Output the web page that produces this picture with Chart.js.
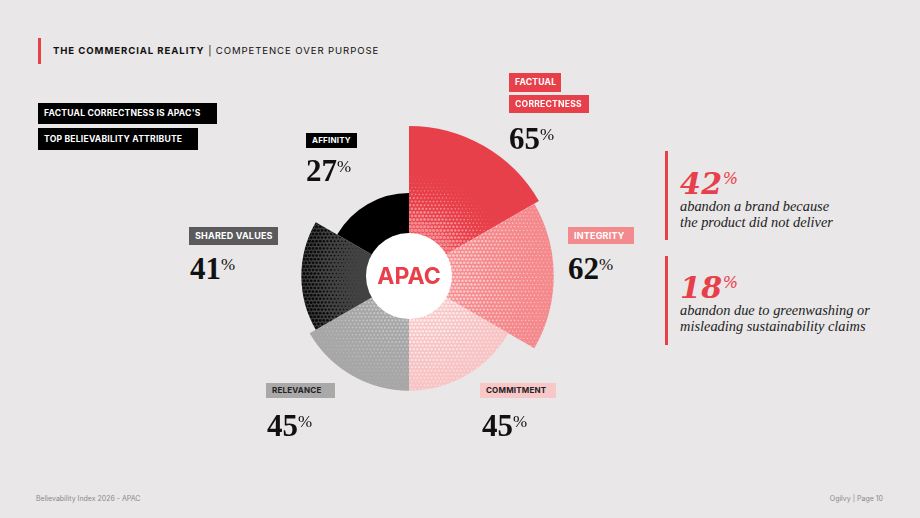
<!DOCTYPE html>
<html>
<head>
<meta charset="utf-8">
<script src="https://cdn.jsdelivr.net/npm/chart.js@4/dist/chart.umd.min.js"></script>
<style>
  html, body { margin: 0; padding: 0; }
  body { width: 920px; height: 518px; background: #e9e7e8; position: relative; overflow: hidden; font-family: Inter, "Noto Sans", sans-serif; }
  .abs { position: absolute; white-space: nowrap; }
  #chartBox { position: absolute; left: 259px; top: 126px; width: 300px; height: 300px; }
  .tag { position: absolute; font-weight: 700; font-size: 8.6px; letter-spacing: 0.2px; padding-left: 6px; box-sizing: border-box; white-space: nowrap; }
  .num { position: absolute; font-family: "Liberation Serif", "DejaVu Serif", serif; font-weight: 700; font-size: 31px; line-height: 31px; color: #111; white-space: nowrap; }
  .num span { font-size: 17px; font-weight: 400; vertical-align: 9px; }
  .big { position: absolute; font-family: "DejaVu Serif", serif; font-style: italic; font-weight: 700; font-size: 30px; line-height: 22px; color: #e8404a; white-space: nowrap; letter-spacing: 0.5px; }
  .big span { font-size: 16px; font-weight: 400; vertical-align: 10px; }
  .note { position: absolute; font-family: "Liberation Serif", serif; font-style: italic; font-size: 14.4px; line-height: 15.5px; color: #222; white-space: nowrap; }
  .bar { position: absolute; width: 3px; background: #e8404a; }
</style>
</head>
<body>

<div class="bar" style="left:38px;top:38px;height:26px;"></div>
<div class="abs" style="left:53px;top:45px;font-size:9.6px;line-height:11px;letter-spacing:0.9px;color:#111;">
  <b>THE COMMERCIAL REALITY</b> | COMPETENCE OVER PURPOSE
</div>

<div class="tag" style="left:38px;top:103px;width:179px;height:21px;line-height:21px;background:#000;color:#fff;">FACTUAL CORRECTNESS IS APAC'S</div>
<div class="tag" style="left:38px;top:128px;width:160px;height:22px;line-height:22px;background:#000;color:#fff;">TOP BELIEVABILITY ATTRIBUTE</div>

<div id="chartBox"><canvas id="polar" width="300" height="300"></canvas></div>

<div class="tag" style="left:509px;top:73px;width:52px;height:19px;line-height:19px;background:#e8404a;color:#fff;">FACTUAL</div>
<div class="tag" style="left:509px;top:95px;width:80px;height:18px;line-height:18px;background:#e8404a;color:#fff;">CORRECTNESS</div>
<div class="num" id="v0" style="left:509px;top:119px;"></div>

<div class="tag" style="left:568px;top:227px;width:66px;height:17px;line-height:17px;background:#f38b8e;color:#fff;font-size:9px;">INTEGRITY</div>
<div class="num" id="v1" style="left:568px;top:249px;"></div>

<div class="tag" style="left:480px;top:383px;width:76px;height:15px;line-height:15px;background:#f8c7c8;color:#222;font-size:8px;">COMMITMENT</div>
<div class="num" id="v2" style="left:482px;top:406px;"></div>

<div class="tag" style="left:266px;top:383px;width:69px;height:15px;line-height:15px;background:#a9a9a9;color:#222;font-size:8px;">RELEVANCE</div>
<div class="num" id="v3" style="left:267px;top:406px;"></div>

<div class="tag" style="left:189px;top:227px;width:89px;height:18px;line-height:18px;background:#5b5a5c;color:#fff;font-size:9px;">SHARED VALUES</div>
<div class="num" id="v4" style="left:190px;top:249px;"></div>

<div class="tag" style="left:306px;top:133px;width:51px;height:15px;line-height:15px;background:#000;color:#fff;font-size:8px;">AFFINITY</div>
<div class="num" id="v5" style="left:306px;top:151px;"></div>

<div class="bar" style="left:665px;top:151px;height:89px;"></div>
<div class="big" style="left:680px;top:168px;">42<span>%</span></div>
<div class="note" style="left:680px;top:199px;">abandon a brand because<br>the product did not deliver</div>

<div class="bar" style="left:665px;top:256px;height:89px;"></div>
<div class="big" style="left:680px;top:272px;">18<span>%</span></div>
<div class="note" style="left:680px;top:303px;">abandon due to greenwashing or<br>misleading sustainability claims</div>

<div class="abs" style="left:36px;top:494px;font-size:7px;line-height:9px;color:#8a8a8a;">Believability Index 2026 - APAC</div>
<div class="abs" style="right:37px;top:494px;font-size:7px;line-height:9px;color:#8a8a8a;">Ogilvy | Page 10</div>

<script>
// believability attributes, clockwise from 12 o'clock
const categories = ['Factual correctness', 'Integrity', 'Commitment', 'Relevance', 'Shared values', 'Affinity'];
const believability = [65, 62, 45, 45, 41, 27];

const baseColors = ['#e8404a', '#f48a8d', '#f7c5c6', '#a7a7a7', '#424242', '#000000'];
const dotColors = ['#f58c91', '#fcc6c7', '#fde9e9', '#c6c6c6', '#0c0c0c', null];

// value labels
believability.forEach((v, i) => {
    document.getElementById('v' + i).innerHTML = v + '<span>%</span>';
});

// how big the halftone dots are at normalised distance u from the centre
function dotSize(i, u) {
    let t = 0;
    if (i === 0) t = (0.72 - u) / 0.4;
    else if (i === 1) t = 1.05 - u * 0.8;
    else if (i === 2) t = 1.1 - u;
    else if (i === 3) t = 0.95 - u;
    else if (i === 4) t = (u - 0.3) / 0.45;
    return Math.max(0, Math.min(1, t));
}

const patterns = {};
function halftone(chart, i) {
    const r = chart.scales.r;
    if (!r || !r.drawingArea) return baseColors[i];
    const key = i + '_' + r.xCenter + '_' + r.yCenter;
    if (patterns[key]) return patterns[key];
    const c = document.createElement('canvas');
    c.width = chart.width;
    c.height = chart.height;
    const g = c.getContext('2d');
    g.fillStyle = baseColors[i];
    g.fillRect(0, 0, c.width, c.height);
    if (dotColors[i]) {
        g.fillStyle = dotColors[i];
        const step = 3.6;
        let row = 0;
        for (let y = 0; y < c.height; y += step, row++) {
            for (let x = (row % 2) * step / 2; x < c.width; x += step) {
                const u = Math.hypot(x - r.xCenter, y - r.yCenter) / r.drawingArea;
                const t = dotSize(i, u);
                if (t > 0.08) {
                    g.beginPath();
                    g.arc(x, y, t * step * 0.5, 0, Math.PI * 2);
                    g.fill();
                }
            }
        }
    }
    patterns[key] = g.createPattern(c, 'no-repeat');
    return patterns[key];
}

const centerDisc = {
    id: 'centerDisc',
    afterDatasetsDraw(chart) {
        const r = chart.scales.r;
        const g = chart.ctx;
        g.save();
        g.fillStyle = '#ffffff';
        g.beginPath();
        g.arc(r.xCenter, r.yCenter, 43, 0, Math.PI * 2);
        g.fill();
        g.fillStyle = '#e8404a';
        g.font = '700 23px Inter, "Noto Sans", sans-serif';
        g.textAlign = 'center';
        g.textBaseline = 'middle';
        g.fillText('APAC', r.xCenter, r.yCenter + 1);
        g.restore();
    }
};

new Chart(document.getElementById('polar'), {
    type: 'polarArea',
    data: {
        labels: categories,
        datasets: [{
            label: 'Believability',
            data: believability,
            backgroundColor: ctx => halftone(ctx.chart, ctx.dataIndex),
            borderWidth: 0
        }]
    },
    options: {
        responsive: false,
        animation: false,
        layout: { padding: 0 },
        scales: {
            r: {
                min: -20,
                max: 65,
                startAngle: 0,
                ticks: { display: false },
                grid: { display: false },
                angleLines: { display: false },
                pointLabels: { display: false }
            }
        },
        plugins: {
            legend: { display: false },
            tooltip: { enabled: false }
        }
    },
    plugins: [centerDisc]
});
</script>
</body>
</html>
